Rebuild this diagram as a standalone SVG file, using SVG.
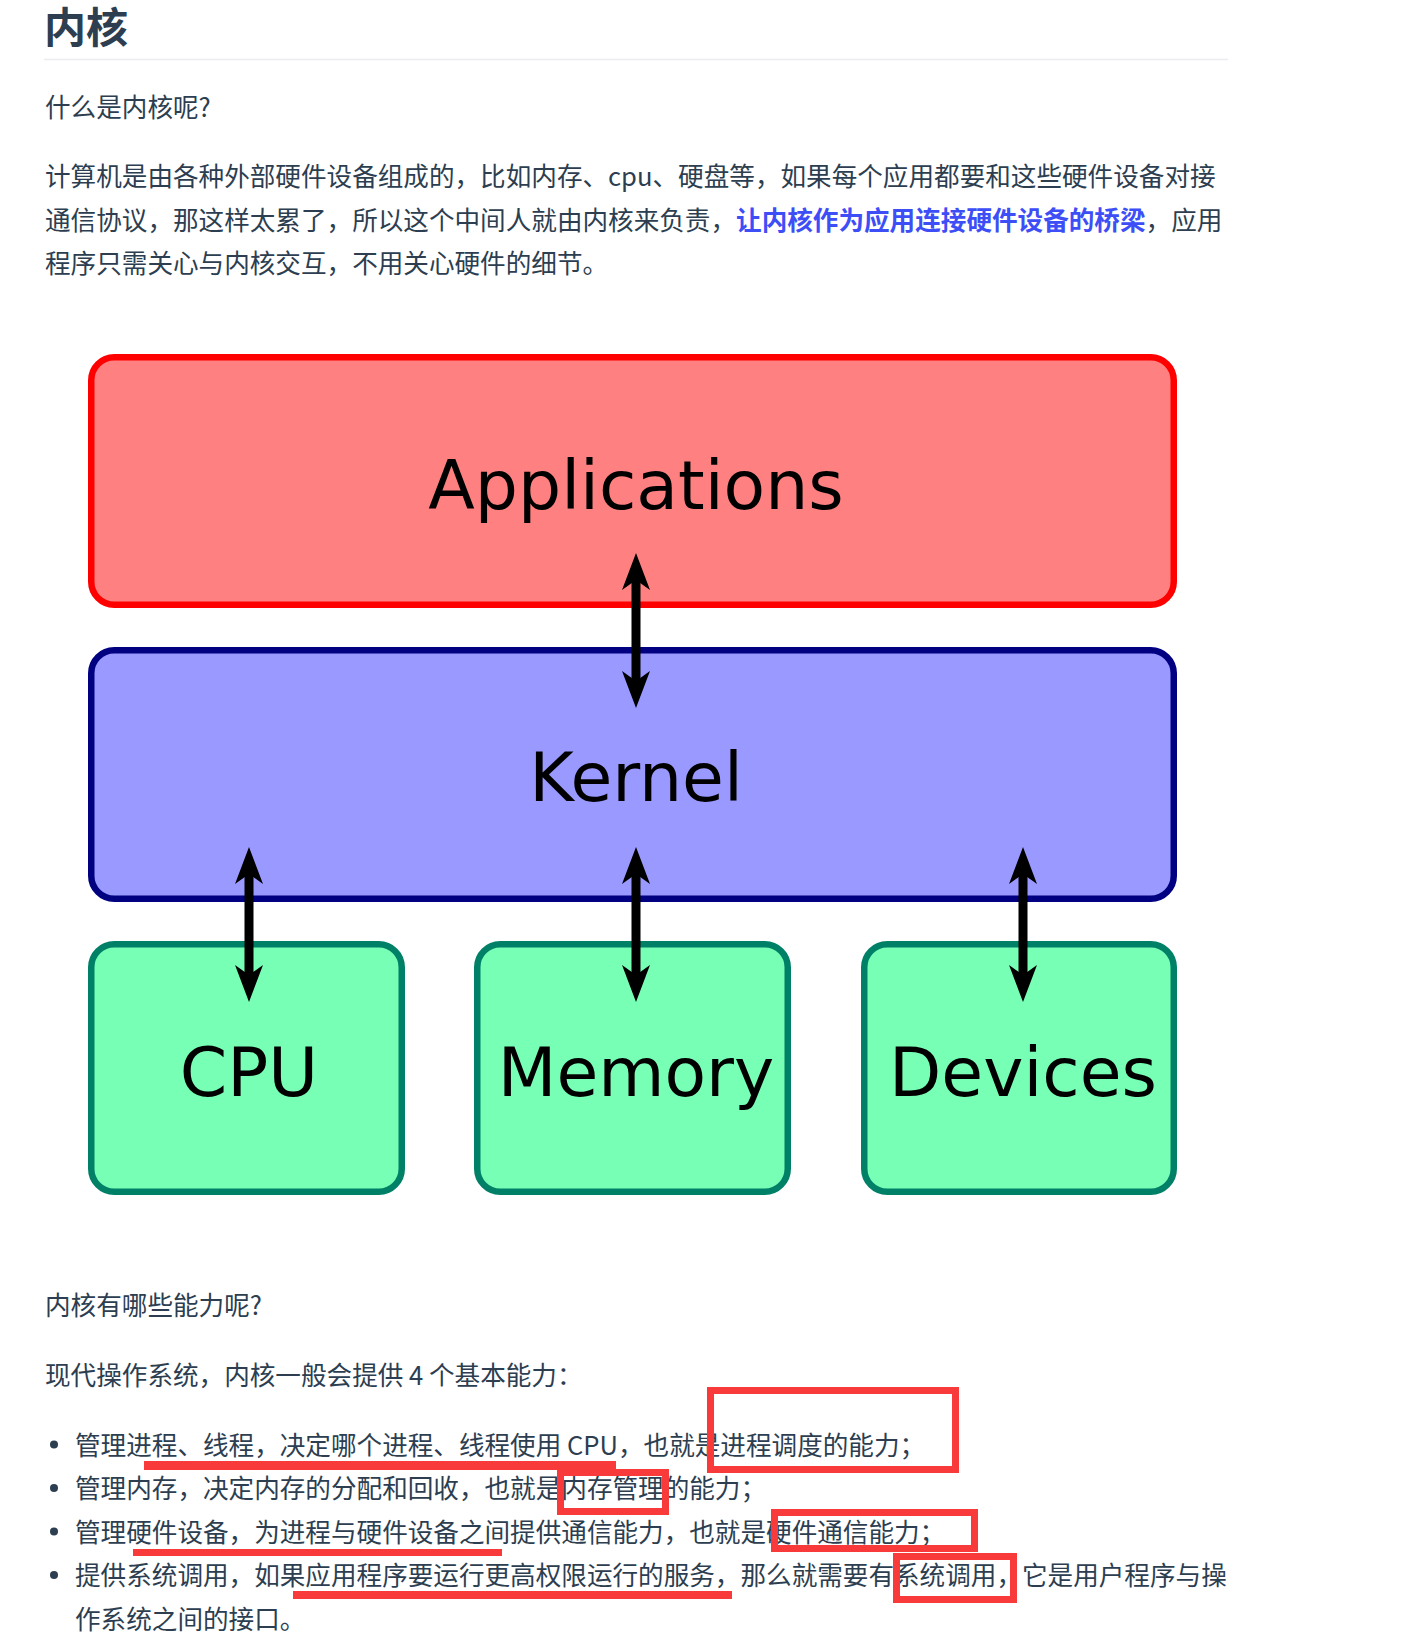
<svg xmlns="http://www.w3.org/2000/svg" width="1413" height="1637" viewBox="0 0 1413 1637">
<style>
  .body { font-family: "Noto Sans CJK SC", "Noto Sans", sans-serif; font-size: 25.6px; fill: #2c3e50; }
  .title { font-family: "Noto Sans CJK SC", "Noto Sans", sans-serif; font-size: 42px; font-weight: 700; fill: #2c3e50; }
  .strong { font-weight: 700; fill: #3d4ef7; }
  .box { stroke-width: 6.5; }
  .app { fill: #ff8080; stroke: #ff0000; }
  .ker { fill: #9999ff; stroke: #000080; }
  .dev { fill: #78ffb6; stroke: #008066; }
  .label { font-family: "DejaVu Sans", sans-serif; font-size: 68px; fill: #000000; text-anchor: middle; }
  .conn { stroke: #000000; stroke-width: 9; fill: none; marker-start: url(#head); marker-end: url(#head); }
  .mark { fill: none; stroke: #f83a3a; stroke-width: 7; }
  .uline { fill: #f83a3a; }
</style>
<defs>
  <marker id="head" viewBox="-40 -16 42 32" markerWidth="42" markerHeight="32" markerUnits="userSpaceOnUse" refX="-20" refY="0" orient="auto-start-reverse">
    <path d="M0,0 L-37,-14 L-27,0 L-37,14 Z" fill="#000000"/>
  </marker>
</defs>
<rect x="0" y="0" width="1413" height="1637" fill="#ffffff"/>

<g id="header-text">
  <text class="title" x="44" y="43">内核</text>
  <line x1="44" y1="59.5" x2="1228" y2="59.5" stroke="#eaecef" stroke-width="1.5"/>
  <text class="body" x="45" y="117">什么是内核呢?</text>
  <text class="body" x="45" y="186">计算机是由各种外部硬件设备组成的，比如内存、cpu、硬盘等，如果每个应用都要和这些硬件设备对接</text>
  <text class="body" x="45" y="229.5">通信协议，那这样太累了，所以这个中间人就由内核来负责，<tspan class="strong">让内核作为应用连接硬件设备的桥梁</tspan>，应用</text>
  <text class="body" x="45" y="273">程序只需关心与内核交互，不用关心硬件的细节。</text>
</g>

<g id="node-applications">
  <rect class="box app" x="91.25" y="357.25" width="1082.5" height="247.5" rx="23"/>
  <text class="label" x="636" y="509">Applications</text>
</g>
<g id="node-kernel">
  <rect class="box ker" x="91.25" y="650.25" width="1082.5" height="248.5" rx="23"/>
  <text class="label" x="636" y="801">Kernel</text>
</g>
<g id="node-cpu">
  <rect class="box dev" x="91.25" y="944.25" width="310.5" height="247.5" rx="23"/>
  <text class="label" x="249" y="1096">CPU</text>
</g>
<g id="node-memory">
  <rect class="box dev" x="477.25" y="944.25" width="310.5" height="247.5" rx="23"/>
  <text class="label" x="636" y="1096">Memory</text>
</g>
<g id="node-devices">
  <rect class="box dev" x="864.25" y="944.25" width="309.5" height="247.5" rx="23"/>
  <text class="label" x="1023" y="1096">Devices</text>
</g>

<g id="connectors">
  <line class="conn" x1="636" y1="573" x2="636" y2="688"/>
  <line class="conn" x1="249" y1="867" x2="249" y2="982"/>
  <line class="conn" x1="636" y1="867" x2="636" y2="982"/>
  <line class="conn" x1="1023" y1="867" x2="1023" y2="982"/>
</g>

<g id="footer-text">
  <text class="body" x="45" y="1315">内核有哪些能力呢?</text>
  <text class="body" x="45" y="1385">现代操作系统，内核一般会提供 4 个基本能力：</text>
  <circle cx="54" cy="1444.5" r="4" fill="#2c3e50"/>
  <text class="body" x="75" y="1454.5">管理进程、线程，决定哪个进程、线程使用 CPU，也就是进程调度的能力；</text>
  <circle cx="54" cy="1488" r="4" fill="#2c3e50"/>
  <text class="body" x="75" y="1498">管理内存，决定内存的分配和回收，也就是内存管理的能力；</text>
  <circle cx="54" cy="1531.5" r="4" fill="#2c3e50"/>
  <text class="body" x="75" y="1541.5">管理硬件设备，为进程与硬件设备之间提供通信能力，也就是硬件通信能力；</text>
  <circle cx="54" cy="1575" r="4" fill="#2c3e50"/>
  <text class="body" x="75" y="1585">提供系统调用，如果应用程序要运行更高权限运行的服务，那么就需要有系统调用，它是用户程序与操</text>
  <text class="body" x="75" y="1628.5">作系统之间的接口。</text>
</g>

<g id="annotations">
  <rect class="mark" x="710.5" y="1390.5" width="245" height="79"/>
  <rect class="uline" x="144" y="1461" width="472" height="9"/>
  <rect class="mark" x="560.5" y="1472.5" width="105" height="39"/>
  <rect class="mark" x="774.5" y="1512.5" width="200" height="36"/>
  <rect class="uline" x="133" y="1549" width="369" height="7"/>
  <rect class="mark" x="896.5" y="1556.5" width="117" height="43"/>
  <rect class="uline" x="293" y="1591" width="439" height="8"/>
</g>
</svg>
